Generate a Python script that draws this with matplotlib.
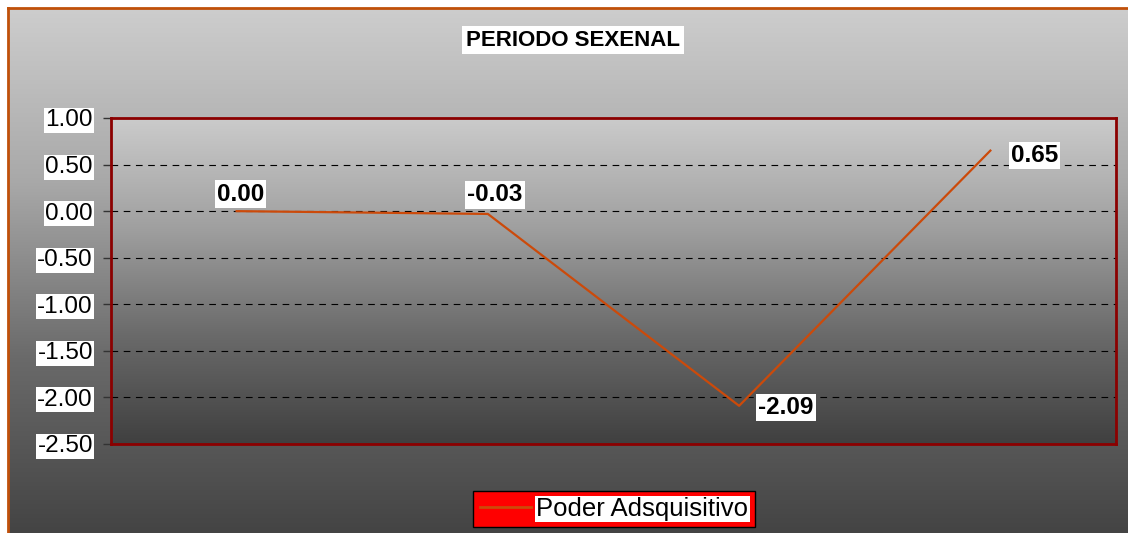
import numpy as np
import matplotlib
matplotlib.use("Agg")
import matplotlib.pyplot as plt
from matplotlib.colors import LinearSegmentedColormap
from matplotlib.lines import Line2D

plt.rcParams['font.family'] = ['Liberation Sans', 'DejaVu Sans']

# data
periodos = ['P1', 'P2', 'P3', 'P4']
poder = [0.00, -0.03, -2.09, 0.65]
etiquetas = ['0.00', '-0.03', '-2.09', '0.65']
yticks = [1.0, 0.5, 0.0, -0.5, -1.0, -1.5, -2.0, -2.5]

W, H = 1128, 533
fig = plt.figure(figsize=(W / 100, H / 100), dpi=100)
fig.patch.set_facecolor('white')

# background of the chart area (gray gradient)
bg_cmap = LinearSegmentedColormap.from_list('bg', ['#cdcdcd', '#a8a8a8', '#6a6a6a', '#444444'])
bg = fig.add_axes([8 / W, 0, 1 - 8 / W, 1 - 8 / H], zorder=-5)
grad = np.linspace(0, 1, 256).reshape(-1, 1)
bg.imshow(grad, aspect='auto', cmap=bg_cmap, extent=[0, 1, 0, 1], origin='upper')
bg.set_xlim(0, 1)
bg.set_ylim(0, 1)
bg.axis('off')
bg.plot([0, 0], [0, 1], color='#c0500a', lw=2, clip_on=False)
bg.plot([0, 1], [1, 1], color='#c0500a', lw=2, clip_on=False)

# plot area
ax = fig.add_axes([111 / W, 1 - 444 / H, 1005 / W, 326 / H])
ax.set_facecolor('none')
x = np.arange(len(periodos)) + 0.5
pa_cmap = LinearSegmentedColormap.from_list('pa', ['#cbcbcb', '#a0a0a0', '#6a6a6a', '#404040'])
ax.imshow(grad, aspect='auto', cmap=pa_cmap, extent=[0, 4, -2.5, 1.0], origin='upper', zorder=0)
ax.set_xlim(0, 4)
ax.set_ylim(-2.5, 1.0)

for yv in yticks[1:-1]:
    ax.axhline(yv, color='black', lw=0.8, ls=(0, (6, 5)), zorder=1)

ax.plot(x, poder, color='#cc4a0a', lw=1.6, zorder=3, label='Poder Adsquisitivo')

offsets = [(4, 17), (7, 19), (47, -2), (44, -5)]
for xi, yi, lab, off in zip(x, poder, etiquetas, offsets):
    ax.annotate(lab, (xi, yi), xytext=off, textcoords='offset pixels',
                ha='center', va='center', fontsize=17.5, fontweight='bold',
                bbox=dict(facecolor='white', edgecolor='none', pad=1.5), zorder=5)

ax.set_xticks([])
ax.set_yticks(yticks)
ax.set_yticklabels(['%.2f' % v for v in yticks], fontsize=17.5)
ax.tick_params(axis='y', length=6, width=1, color='#333333', pad=7)
for t in ax.get_yticklabels():
    t.set_bbox(dict(facecolor='white', edgecolor='none', pad=1))
for sp in ax.spines.values():
    sp.set_color('#8b0000')
    sp.set_linewidth(2)

fig.text(573 / W, 1 - 40 / H, 'PERIODO SEXENAL', ha='center', va='center',
         fontsize=16, fontweight='bold',
         bbox=dict(facecolor='white', edgecolor='none', pad=2.5))

leg = fig.legend(handles=[Line2D([], [], color='#cc4a0a', lw=2)], labels=['Poder Adsquisitivo'],
                 loc='center', bbox_to_anchor=(614 / W, 1 - 509 / H), fontsize=18.5,
                 fancybox=False, framealpha=1, handlelength=2.0, handletextpad=0.2,
                 borderpad=0.25, borderaxespad=0)
leg.get_frame().set_facecolor('#ff0000')
leg.get_frame().set_edgecolor('black')
for t in leg.get_texts():
    t.set_bbox(dict(facecolor='white', edgecolor='none', pad=1))

fig.savefig('out.png', dpi=100)
